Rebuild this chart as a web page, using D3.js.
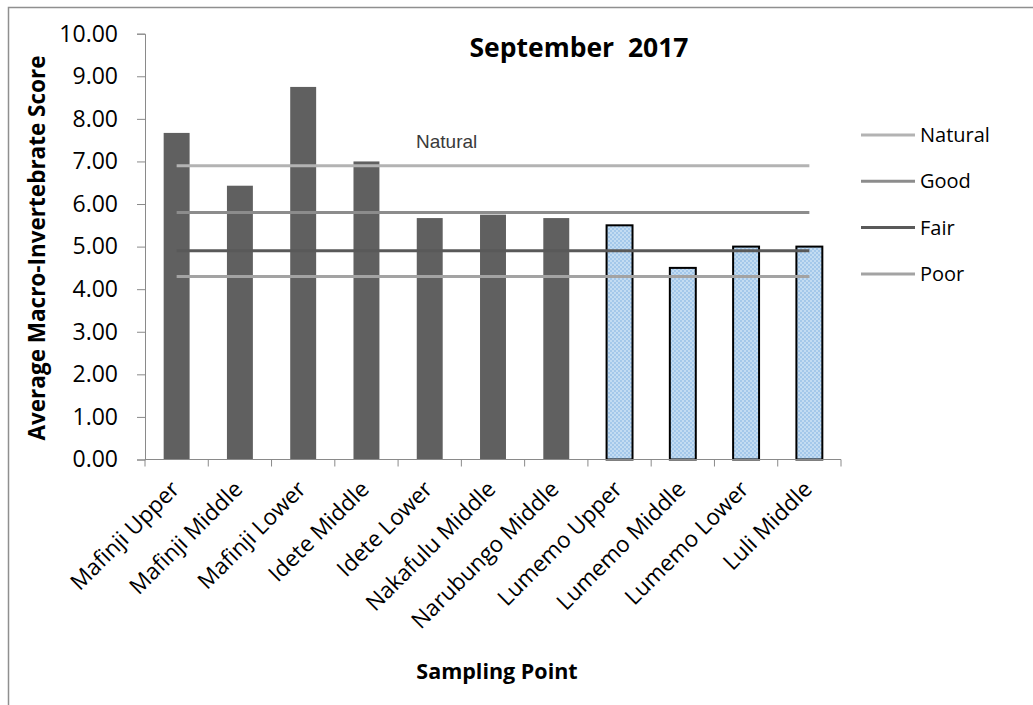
<!DOCTYPE html>
<html>
<head>
<meta charset="utf-8">
<script src="https://cdn.jsdelivr.net/npm/d3@7"></script>
<style>
  body { margin: 0; background: #fff; }
  text { font-family: "Open Sans", sans-serif; }
</style>
</head>
<body>
<div id="chart"></div>
<script>

// data
var sites = ["Mafinji Upper", "Mafinji Middle", "Mafinji Lower", "Idete Middle", "Idete Lower",
    "Nakafulu Middle", "Narubungo Middle", "Lumemo Upper", "Lumemo Middle", "Lumemo Lower", "Luli Middle"];
var scores = [7.67, 6.43, 8.75, 7.00, 5.67, 5.75, 5.67, 5.50, 4.50, 5.00, 5.00];
// last four sites are drawn with the hatched blue fill
var hatched = [false, false, false, false, false, false, false, true, true, true, true];

var bandNames = ["Natural", "Good", "Fair", "Poor"];
var bandValues = [6.9, 5.8, 4.9, 4.3];
var bandColors = ["#b3b3b3", "#8c8c8c", "#595959", "#a3a3a3"];

var yTicks = [0, 1, 2, 3, 4, 5, 6, 7, 8, 9, 10];

function drawChart() {

    var width = 1033;
    var height = 705;

    var plot = {
        left: 145,
        right: 841,
        top: 33.7,
        bottom: 459.5
    };

    var svg = d3.select("#chart").append("svg")
        .attr("width", width)
        .attr("height", height);

    var defs = svg.append("defs");
    var pat = defs.append("pattern")
        .attr("id", "dots")
        .attr("width", 4)
        .attr("height", 4)
        .attr("patternUnits", "userSpaceOnUse");
    pat.append("rect").attr("width", 4).attr("height", 4).attr("fill", "#c3dcf2");
    pat.append("rect").attr("x", 0).attr("y", 0).attr("width", 2).attr("height", 2).attr("fill", "#a4c8ea");
    pat.append("rect").attr("x", 2).attr("y", 2).attr("width", 2).attr("height", 2).attr("fill", "#a4c8ea");

    // outer chart frame (right and bottom edges run off the picture)
    svg.append("rect")
        .attr("x", 8.5)
        .attr("y", 7.5)
        .attr("width", 1100)
        .attr("height", 800)
        .attr("fill", "none")
        .attr("stroke", "#8f8f8f")
        .attr("stroke-width", 1.5);

    var x = d3.scaleBand()
        .domain(sites)
        .range([plot.left, plot.right]);

    var y = d3.scaleLinear()
        .domain([0, 10])
        .range([plot.bottom, plot.top]);

    var barW = x.bandwidth() * 0.41;

    // bars
    svg.selectAll(".bar")
        .data(sites)
        .enter().append("rect")
        .attr("class", "bar")
        .attr("x", function(d) { return x(d) + (x.bandwidth() - barW) / 2; })
        .attr("width", barW)
        .attr("y", function(d, i) { return y(scores[i]); })
        .attr("height", function(d, i) { return y(0) - y(scores[i]); })
        .attr("fill", function(d, i) { return hatched[i] ? "url(#dots)" : "#606060"; })
        .attr("stroke", function(d, i) { return hatched[i] ? "#000" : "none"; })
        .attr("stroke-width", 2);

    // y axis
    var yAxis = svg.append("g")
        .attr("transform", "translate(" + plot.left + ",0)")
        .call(d3.axisLeft(y).tickValues(yTicks).tickSize(8).tickPadding(19)
            .tickFormat(d3.format(".2f")));
    yAxis.selectAll("path, line").attr("stroke", "#8a8a8a");
    yAxis.selectAll("text")
        .style("font-size", "23px")
        .attr("fill", "#000");

    // x axis, ticks sit on band edges
    var xAxis = svg.append("g")
        .attr("transform", "translate(0," + plot.bottom + ")");
    xAxis.append("line")
        .attr("x1", plot.left).attr("x2", plot.right)
        .attr("stroke", "#8a8a8a");
    xAxis.selectAll(".tk")
        .data(sites.concat(["end"]))
        .enter().append("line")
        .attr("class", "tk")
        .attr("x1", function(d, i) { return plot.left + i * x.bandwidth(); })
        .attr("x2", function(d, i) { return plot.left + i * x.bandwidth(); })
        .attr("y1", 0).attr("y2", 7)
        .attr("stroke", "#8a8a8a");
    xAxis.selectAll(".lbl")
        .data(sites)
        .enter().append("text")
        .attr("class", "lbl")
        .attr("transform", function(d) {
            return "translate(" + (x(d) + x.bandwidth() / 2 + 4) + ",31) rotate(-45)";
        })
        .attr("text-anchor", "end")
        .style("font-size", "22.5px")
        .text(function(d) { return d; });

    // threshold lines, from first to last category centre
    var x0 = x(sites[0]) + x.bandwidth() / 2;
    var x1 = x(sites[sites.length - 1]) + x.bandwidth() / 2;
    svg.selectAll(".band")
        .data(bandNames)
        .enter().append("line")
        .attr("class", "band")
        .attr("x1", x0).attr("x2", x1)
        .attr("y1", function(d, i) { return y(bandValues[i]); })
        .attr("y2", function(d, i) { return y(bandValues[i]); })
        .attr("stroke", function(d, i) { return bandColors[i]; })
        .attr("stroke-width", 3);

    svg.append("text")
        .attr("x", 416)
        .attr("y", 148)
        .style("font-family", "'Liberation Sans', Arial, sans-serif")
        .style("font-size", "19px")
        .attr("fill", "#3a3a3a")
        .text("Natural");

    // legend
    var legend = svg.selectAll(".leg")
        .data(bandNames)
        .enter().append("g")
        .attr("class", "leg")
        .attr("transform", function(d, i) { return "translate(861," + (135 + i * 46.3) + ")"; });
    legend.append("line")
        .attr("x1", 0).attr("x2", 54)
        .attr("stroke", function(d, i) { return bandColors[i]; })
        .attr("stroke-width", 3);
    legend.append("text")
        .attr("x", 59)
        .attr("dy", "0.35em")
        .style("font-size", "20px")
        .text(function(d) { return d; });

    // titles
    svg.append("text")
        .attr("x", 579)
        .attr("y", 57)
        .attr("text-anchor", "middle")
        .style("font-size", "26.5px")
        .style("font-weight", "bold")
        .style("white-space", "pre")
        .text("September  2017");

    svg.append("text")
        .attr("transform", "translate(45,248) rotate(-90)")
        .attr("text-anchor", "middle")
        .style("font-size", "22.5px")
        .style("font-weight", "bold")
        .text("Average Macro-Invertebrate Score");

    svg.append("text")
        .attr("x", 497)
        .attr("y", 679)
        .attr("text-anchor", "middle")
        .style("font-size", "21.5px")
        .style("font-weight", "bold")
        .text("Sampling Point");
}

drawChart();
</script>
</body>
</html>
